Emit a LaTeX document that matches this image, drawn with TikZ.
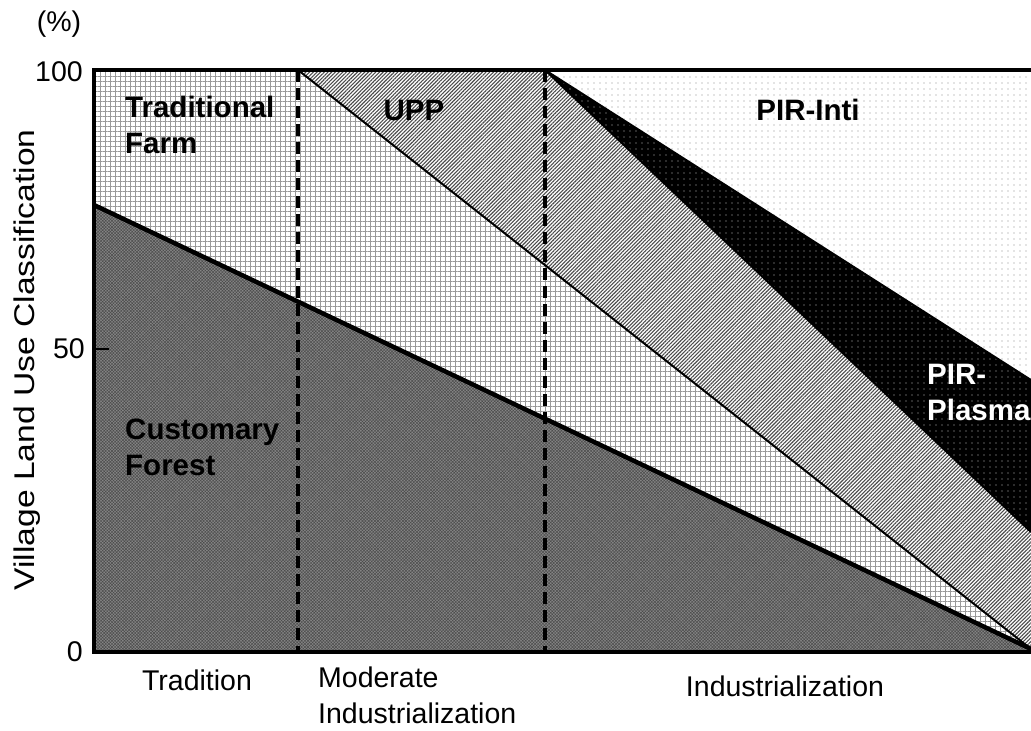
\documentclass[tikz,border=0pt]{standalone}
\usepackage{fontspec}
\setmainfont{Liberation Sans}
\usetikzlibrary{patterns.meta}
\begin{document}
\begin{tikzpicture}[x=1pt,y=-1pt,
  lbl/.style={font=\fontsize{28.5}{36}\selectfont, inner sep=0pt},
  area/.style={font=\fontsize{29.5}{36}\selectfont\bfseries, inner sep=0pt, align=left},
  farm/.style={fill=white, postaction={pattern={Hatch[angle=0,distance=5pt,line width=0.6pt]}, pattern color=gray!80}},
  upp/.style={fill=white, postaction={pattern={Lines[angle=45,distance=2.6pt,line width=1.1pt]}, pattern color=black!70}},
  inti/.style={fill=white, postaction={pattern={Dots[radius=0.65pt,distance=6pt]}, pattern color=gray!90}},
  plasma/.style={fill=black, postaction={pattern={Dots[radius=0.65pt,distance=6pt]}, pattern color=white!75!black}},
  forest/.style={fill=gray!95, postaction={pattern={Hatch[angle=45,distance=2.2pt,line width=0.5pt]}, pattern color=gray!60!black}},
  bound/.style={line width=4.5pt},
  thinb/.style={line width=2pt},
  divider/.style={line width=3.2pt, dash pattern=on 12pt off 6pt},
  frame/.style={line width=3.5pt}]
\useasboundingbox (0,0) rectangle (1031,731);
% key points
\coordinate (A) at (94,70);
\coordinate (B) at (298,70);
\coordinate (C) at (545,70);
\coordinate (R) at (1031,70);
\coordinate (F0) at (94,205);
\coordinate (F1) at (1031,649);
\coordinate (P1) at (1031,532);
\coordinate (P2) at (1031,380);
\coordinate (BL) at (94,652);
\coordinate (BR) at (1031,652);
\coordinate (D1b) at (298,652);
\coordinate (D2b) at (545,652);
% regions
\path[farm] (A) -- (B) -- (F1) -- (F0) -- cycle;
\path[upp] (B) -- (C) -- (P1) -- (F1) -- cycle;
\path[inti] (C) -- (R) -- (P2) -- cycle;
\path[plasma] (C) -- (P2) -- (P1) -- cycle;
\path[forest] (F0) -- (F1) -- (BR) -- (BL) -- cycle;
% boundaries
\draw[thinb] (B) -- (F1);
\draw[thinb] (C) -- (P1);
\draw[thinb] (C) -- (P2);
\draw[bound] (F0) -- (F1);
\draw[divider] (B) -- (D1b);
\draw[divider] (C) -- (D2b);
% frame
\draw[frame] (R) -- (A) -- (BL) -- (BR);
\coordinate (T50) at (94,349);
\coordinate (T50e) at (109,349);
\draw[line width=2.5pt] (T50) -- (T50e);
% axis labels
\node[lbl, anchor=east] (y100) at (83,72) {100};
\node[lbl, anchor=east] (y50) at (85,349) {50};
\node[lbl, anchor=east] (y0) at (83,652) {0};
\node[lbl] (pct) at (59,24) {(\%)};
\node[lbl, rotate=90] (ylab) at (27,360) {\scalebox{1.18}[1]{Village Land Use Classification}};
\node[lbl] (xa) at (197,680) {Tradition};
\node[lbl, align=left, anchor=north west, font=\fontsize{28.5}{36}\selectfont] (xb) at (318,667) {Moderate\\Industrialization};
\node[lbl] (xc) at (785,686) {Industrialization};
% region labels
\node[area, anchor=north west] (tf) at (125,96) {Traditional\\Farm};
\node[area] (uppl) at (414,110) {UPP};
\node[area] (intil) at (808,110) {PIR-Inti};
\node[area, anchor=north west, text=white] (plasl) at (927,364) {PIR-\\Plasma};
\node[area, anchor=north west] (cf) at (125,419) {Customary\\Forest};
\end{tikzpicture}
\end{document}
